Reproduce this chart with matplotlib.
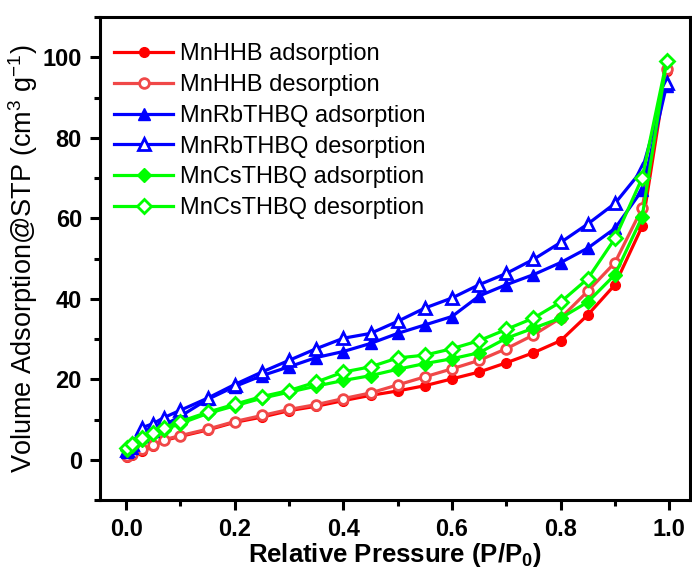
import matplotlib
matplotlib.use('Agg')
import matplotlib.pyplot as plt
from matplotlib.ticker import MultipleLocator

plt.rcParams['font.family'] = ['Liberation Sans', 'DejaVu Sans']
plt.rcParams['mathtext.fontset'] = 'custom'
plt.rcParams['mathtext.rm'] = 'Liberation Sans'
plt.rcParams['mathtext.bf'] = 'Liberation Sans:bold'

# relative pressure points
p = [0.002, 0.01, 0.03, 0.05, 0.07, 0.1, 0.15, 0.2, 0.25, 0.3, 0.35, 0.4,
     0.45, 0.5, 0.55, 0.6, 0.65, 0.7, 0.75, 0.8, 0.85, 0.9, 0.95, 0.995]

mnhhb_ads = [0.6, 1.2, 2.3, 3.4, 4.8, 5.8, 7.4, 9.3, 10.6, 12.2, 13.3, 14.7,
             16.0, 17.1, 18.4, 20.1, 21.8, 24.1, 26.6, 29.6, 36.0, 43.5, 58.0, 96.5]
mnhhb_des = [1.0, 1.5, 2.6, 3.6, 5.0, 6.0, 7.6, 9.5, 11.0, 12.5, 13.7, 15.2,
             16.6, 18.6, 20.6, 22.6, 24.7, 27.6, 31.0, 35.2, 41.9, 49.0, 62.5, 97.0]
rb_ads = [2.0, 3.0, 6.0, 7.2, 8.6, 10.8, 15.0, 18.2, 20.9, 23.1, 25.4, 26.9,
          28.9, 31.4, 33.5, 35.6, 40.7, 43.5, 46.0, 49.0, 52.6, 57.5, 67.0, 93.0]
rb_des = [2.5, 3.8, 8.0, 9.0, 10.5, 12.3, 15.3, 18.7, 21.8, 24.7, 27.6, 30.2,
          31.4, 34.4, 37.7, 40.2, 43.5, 46.3, 49.8, 54.0, 58.6, 63.7, 72.0, 93.5]
cs_ads = [2.5, 3.5, 5.0, 6.3, 7.5, 9.0, 11.5, 13.4, 15.3, 16.8, 18.3, 19.7,
          20.9, 22.5, 23.9, 25.1, 26.6, 30.2, 32.7, 35.2, 39.2, 46.0, 60.3, 99.0]
cs_des = [2.8, 3.8, 5.3, 6.7, 8.0, 9.5, 11.8, 13.8, 15.7, 17.2, 19.3, 21.8,
          23.1, 25.3, 26.0, 27.6, 29.6, 32.4, 35.2, 39.2, 45.0, 55.0, 70.0, 99.0]

fig = plt.figure(figsize=(6.92, 5.70), dpi=100)
ax = fig.add_axes([0.1445, 0.1228, 0.8525, 0.8472])

lw = 2.3
ax.plot(p, mnhhb_ads, '-o', color='#ff0000', lw=lw, ms=7, label='MnHHB adsorption')
ax.plot(p, mnhhb_des, '-o', color='#f04848', lw=lw, ms=7, mfc='white', mew=2,
        label='MnHHB desorption')
ax.plot(p, rb_ads, '-^', color='#0000ff', lw=lw, ms=8.5, label='MnRbTHBQ adsorption')
ax.plot(p, rb_des, '-^', color='#0000ff', lw=lw, ms=8.5, mfc='white', mew=2,
        label='MnRbTHBQ desorption')
ax.plot(p, cs_ads, '-D', color='#00ff00', lw=lw, ms=7, label='MnCsTHBQ adsorption')
ax.plot(p, cs_des, '-D', color='#00ff00', lw=lw, ms=7, mfc='white', mew=2,
        label='MnCsTHBQ desorption')

ax.set_xlim(-0.048, 1.038)
ax.set_ylim(-10, 110)
ax.xaxis.set_major_locator(MultipleLocator(0.2))
ax.xaxis.set_minor_locator(MultipleLocator(0.1))
ax.yaxis.set_major_locator(MultipleLocator(20))
ax.yaxis.set_minor_locator(MultipleLocator(10))
ax.tick_params(which='major', direction='out', length=7, width=2.2, labelsize=17, pad=6)
ax.tick_params(which='minor', direction='out', length=4, width=2.2)
ax.tick_params(top=False, right=False)
for lab in ax.get_xticklabels() + ax.get_yticklabels():
    lab.set_fontweight('bold')
for s in ax.spines.values():
    s.set_linewidth(2.2)

ax.set_xlabel(r'Relative Pressure (P/P$_\mathbf{0}$)', fontsize=18.5, fontweight='bold',
              labelpad=0)
ax.set_ylabel(r'Volume Adsorption@STP (cm$^3$ g$^{-1}$)', fontsize=19.5, labelpad=2)

ax.legend(loc='upper left', frameon=False, fontsize=17, handlelength=2.5,
          handletextpad=0.3, labelspacing=0.37, borderaxespad=0.2,
          bbox_to_anchor=(0.0, 0.975))

fig.savefig('out.png', dpi=100)
